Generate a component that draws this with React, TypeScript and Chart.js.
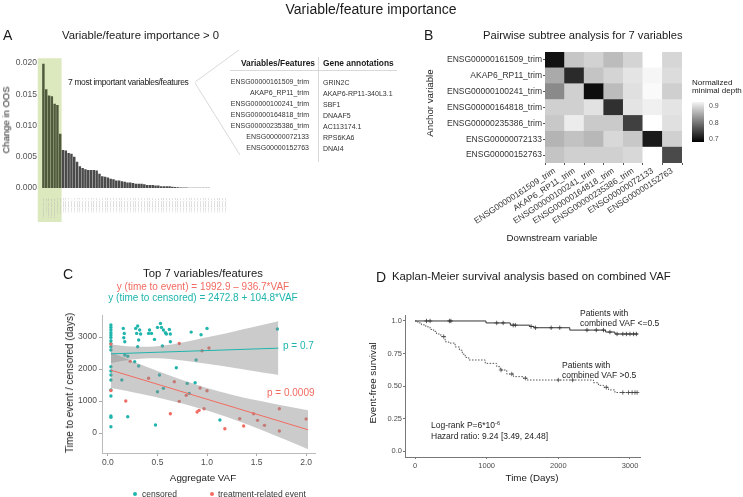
import React, { useEffect, useRef } from "react";
import { Chart, registerables } from "chart.js";

Chart.register(...registerables);

const W = 743;
const H = 497;
const FONT = "'Liberation Sans', Arial, Helvetica, sans-serif";
const TEAL = "#1fb5ad";
const RED = "#f26b61";
const TICK = "#4d4d4d";

// ---------------- Panel A ----------------
const topVariables = [
  "ENSG00000161509_trim",
  "AKAP6_RP11_trim",
  "ENSG00000100241_trim",
  "ENSG00000164818_trim",
  "ENSG00000235386_trim",
  "ENSG00000072133",
  "ENSG00000152763",
];
const geneAnnotations = ["GRIN2C", "AKAP6-RP11-340L3.1", "SBF1", "DNAAF5", "AC113174.1", "RPS6KA6", "DNAI4"];
const otherVariables = [
  "other_variable_08", "other_variable_09", "other_variable_10", "other_variable_11", "other_variable_12",
  "other_variable_13", "other_variable_14", "other_variable_15", "other_variable_16", "other_variable_17",
  "other_variable_18", "other_variable_19", "other_variable_20", "other_variable_21", "other_variable_22",
  "other_variable_23", "other_variable_24", "other_variable_25", "other_variable_26", "other_variable_27",
  "other_variable_28", "other_variable_29", "other_variable_30", "other_variable_31", "other_variable_32",
  "other_variable_33", "other_variable_34", "other_variable_35", "other_variable_36", "other_variable_37",
  "other_variable_38", "other_variable_39", "other_variable_40", "other_variable_41", "other_variable_42",
  "other_variable_43", "other_variable_44", "other_variable_45", "other_variable_46", "other_variable_47",
  "other_variable_48", "other_variable_49", "other_variable_50", "other_variable_51", "other_variable_52",
  "other_variable_53", "other_variable_54", "other_variable_55", "other_variable_56", "other_variable_57",
  "other_variable_58", "other_variable_59", "other_variable_60", "other_variable_61", "other_variable_62",
  "other_variable_63", "other_variable_64", "other_variable_65", "other_variable_66",
];
const importanceLabels = [...topVariables, ...otherVariables];
const importanceValues = [
  0.0199, 0.0158, 0.0148, 0.0147, 0.0135, 0.0133, 0.0087, 0.0061, 0.006, 0.0056,
  0.0055, 0.005, 0.0042, 0.0035, 0.0032, 0.003, 0.0029, 0.0029, 0.0029, 0.0028,
  0.0023, 0.0019, 0.0018, 0.0017, 0.0015, 0.0014, 0.0012, 0.0012, 0.0011, 0.001,
  0.0009, 0.0009, 0.0008, 0.0007, 0.0007, 0.0007, 0.0006, 0.0005, 0.0005, 0.0005,
  0.0004, 0.0004, 0.0003, 0.0003, 0.0003, 0.0003, 0.0002, 0.00015, 0.00012, 0.0001,
  0.0001, 0.00008, 0.00006, 0.00005, 0.00005, 0.00004, 0.00004, 0.00003, 0.00003, 0.00003,
  0.00002, 0.00002, 0.00002, 0.00001, 0.00001, 0.00001,
];
const importanceTicks = [0, 0.005, 0.01, 0.015, 0.02];

// ---------------- Panel B ----------------
const pairVars = topVariables;
const pairDepth = [
  [0.693, 0.872, 0.884, 0.862, 0.886, 0.93, 0.888],
  [0.845, 0.718, 0.87, 0.886, 0.902, 0.92, 0.894],
  [0.813, 0.882, 0.689, 0.862, 0.898, 0.924, 0.881],
  [0.882, 0.882, 0.9, 0.724, 0.902, 0.914, 0.902],
  [0.874, 0.91, 0.876, 0.876, 0.739, 0.93, 0.898],
  [0.855, 0.868, 0.858, 0.89, 0.874, 0.702, 0.882],
  [0.87, 0.882, 0.882, 0.882, 0.89, 0.93, 0.749],
];
const depthLegendTicks = ["0.9", "0.8", "0.7"];

// ---------------- Panel C ----------------
const censoredVAF = [
  0.03, 0.03, 0.03, 0.03, 0.03, 0.03, 0.03, 0.03, 0.03, 0.03, 0.03, 0.03, 0.03, 0.03, 0.03, 0.03, 0.03, 0.03, 0.03,
  0.155, 0.165, 0.16, 0.17, 0.17, 0.2, 0.14, 0.2, 0.28, 0.3, 0.32, 0.29, 0.33, 0.31, 0.3, 0.27, 0.31,
  0.42, 0.44, 0.41, 0.47, 0.5, 0.53, 0.54, 0.56, 0.58, 0.59, 0.62, 0.63, 0.63, 0.55, 0.52, 0.5, 0.56, 0.48,
  0.69, 0.84, 0.94, 1.0, 0.89, 0.8, 0.88, 0.82, 1.13, 1.71,
];
const censoredDays = [
  3375, 3303, 3219, 3135, 3063, 2990, 2885, 2802, 2698, 2594, 2073, 1937, 1813, 1656, 1344, 1156, 531, 490, 198,
  3271, 3115, 2979, 2854, 2440, 2400, 1656, 510, 3271, 3344, 3219, 3115, 3094, 2906, 2698, 2230, 2094,
  3219, 3115, 3115, 2927, 3302, 3427, 3302, 3219, 3135, 3094, 3240, 3094, 2854, 2719, 1813, 1292, 1396, 250,
  2042, 3156, 3073, 3271, 2281, 1552, 1573, 1240, 406, 3250,
];
const eventVAF = [
  0.03, 0.03, 0.18, 0.225, 0.41, 0.72, 0.67, 0.72, 0.63, 0.79, 0.95, 1.02, 0.93,
  1.0, 0.9, 0.92, 0.97, 1.18, 1.33, 1.37, 1.47, 1.51, 1.58, 1.73, 1.73, 2.0,
];
const eventDays = [
  2780, 1330, 1000, 2240, 1710, 2800, 1604, 990, 604, 1177, 2573, 2656, 1406,
  1323, 656, 708, 760, 135, 448, 219, 604, 396, 240, 760, 65, 438,
];
const eventFitVAF = [0.03, 2.02];
const eventFitDays = [1965, 101];
const censFitVAF = [0.03, 1.72];
const censFitDays = [2476, 2653];
const eventBandVAF = [0.03, 0.25, 0.5, 0.75, 1.0, 1.25, 1.5, 1.75, 2.02];
const eventBandUpper = [2525, 2242, 1936, 1654, 1407, 1198, 1021, 865, 711];
const eventBandLower = [1405, 1276, 1114, 926, 705, 446, 155, -157, -509];
const censBandVAF = [0.03, 0.25, 0.5, 0.75, 1.0, 1.25, 1.5, 1.72];
const censBandUpper = [2768, 2702, 2715, 2833, 2992, 3162, 3337, 3493];
const censBandLower = [2184, 2296, 2335, 2269, 2164, 2046, 1923, 1813];
const cTicksX = [0, 0.5, 1, 1.5, 2];
const cTicksY = [0, 1000, 2000, 3000];

// ---------------- Panel D ----------------
const kmLowTime = [0, 990, 1330, 1600, 1660, 2160, 2660, 2790, 3110];
const kmLowSurv = [1, 0.985, 0.968, 0.958, 0.948, 0.93, 0.915, 0.9, 0.9];
const kmHighTime = [0, 40, 90, 150, 210, 260, 300, 360, 420, 470, 560, 620, 660, 700, 750, 980, 1140, 1190, 1280, 1375, 1510, 1560, 2490, 2560, 2630, 2700, 2790, 3110];
const kmHighSurv = [1, 0.985, 0.97, 0.955, 0.935, 0.92, 0.9, 0.88, 0.84, 0.83, 0.8, 0.775, 0.745, 0.72, 0.7, 0.674, 0.649, 0.623, 0.592, 0.572, 0.56, 0.546, 0.525, 0.505, 0.49, 0.47, 0.45, 0.45];
const censorLowTime = [160, 210, 480, 500, 1140, 1230, 1370, 1400, 1620, 1680, 1900, 2020, 2400, 2530, 2630, 2720, 2820, 2900, 2950, 3000, 3050, 3090];
const censorLowSurv = [1, 1, 1, 1, 0.985, 0.985, 0.968, 0.968, 0.958, 0.948, 0.948, 0.948, 0.93, 0.93, 0.93, 0.915, 0.9, 0.9, 0.9, 0.9, 0.9, 0.9];
const censorHighTime = [400, 1200, 1350, 1540, 2000, 2200, 2670, 2900, 2980, 3030, 3070, 3100];
const censorHighSurv = [0.88, 0.623, 0.592, 0.56, 0.546, 0.546, 0.49, 0.45, 0.45, 0.45, 0.45, 0.45];
const dTicksX = [0, 1000, 2000, 3000];
const dTicksY = [0, 0.25, 0.5, 0.75, 1];
const dTickLabelsY = ["0.0", "0.25", "0.50", "0.75", "1.0"];

// ---------------- helpers ----------------
const fixW = (w: number) => (s: any) => { s.width = w; };
const fixH = (h: number) => (s: any) => { s.height = h; };
const setTicks = (vals: number[]) => (s: any) => { s.ticks = vals.map((v) => ({ value: v })); };
const pts = (xs: number[], ys: number[]) => xs.map((x, i) => ({ x, y: ys[i] }));
const depthColor = (v: number) => {
  const g = Math.round(Math.max(0, Math.min(255, ((v - 0.676) / 0.242) * 244)));
  return `rgb(${g},${g},${g})`;
};

const baseOptions: any = {
  responsive: false,
  animation: false,
  events: [],
  plugins: { legend: { display: false }, tooltip: { enabled: false } },
};

const Txt = ({ x, y, s, c = "#1a1a1a", a = "l", w = 400, r = false, ls = 0, children }: any) => {
  const tx = a === "l" ? "0" : a === "c" ? "-50%" : "-100%";
  return (
    <div
      style={{
        position: "absolute",
        left: x,
        top: y,
        fontSize: s,
        color: c,
        fontWeight: w,
        letterSpacing: ls,
        fontFamily: FONT,
        whiteSpace: "nowrap",
        lineHeight: 1,
        transform: r ? "translate(-50%,-50%) rotate(-90deg)" : `translate(${tx},-50%)`,
      }}
    >
      {children}
    </div>
  );
};

export default function App() {
  const refA = useRef<HTMLCanvasElement>(null);
  const refB = useRef<HTMLCanvasElement>(null);
  const refC = useRef<HTMLCanvasElement>(null);
  const refD = useRef<HTMLCanvasElement>(null);

  useEffect(() => {
    document.body.style.margin = "0";
    const charts: Chart[] = [];

    // ---- A ----
    const greenBand = {
      id: "greenBand",
      beforeDraw(chart: any) {
        const { ctx, chartArea, scales } = chart;
        const x = scales.x;
        const w = x.getPixelForValue(1) - x.getPixelForValue(0);
        const l = x.getPixelForValue(0) - w / 2 - 4.3;
        const r = x.getPixelForValue(6) + w / 2;
        ctx.save();
        ctx.fillStyle = "#dce9bf";
        ctx.fillRect(l, chartArea.top - 1, r - l, chartArea.bottom + 34 - (chartArea.top - 1));
        ctx.restore();
      },
      afterDraw(chart: any) {
        const ctx = chart.ctx;
        ctx.save();
        ctx.strokeStyle = "#cfcfcf";
        ctx.lineWidth = 0.8;
        ctx.beginPath();
        ctx.moveTo(195, 82);
        ctx.lineTo(239, 50);
        ctx.moveTo(195, 83);
        ctx.lineTo(240, 155);
        ctx.moveTo(230, 70.5);
        ctx.lineTo(397, 70.5);
        ctx.moveTo(318.5, 57);
        ctx.lineTo(318.5, 162);
        ctx.stroke();
        ctx.restore();
      },
    };
    charts.push(
      new Chart(refA.current!, {
        type: "bar",
        data: {
          labels: importanceLabels,
          datasets: [
            {
              data: importanceValues,
              backgroundColor: importanceValues.map((_, i) => (i < 7 ? "#4f5a3d" : "#4a4a4a")),
              borderWidth: 0,
              barPercentage: 1,
              categoryPercentage: 0.88,
            },
          ],
        },
        options: {
          ...baseOptions,
          layout: { padding: { left: 0, top: 59.25, right: W - 227, bottom: H - 188 - 40 } },
          scales: {
            x: {
              grid: { display: false },
              border: { display: false },
              ticks: { autoSkip: false, minRotation: 90, maxRotation: 90, font: { size: 1.8, family: FONT }, color: "#b0b0b0", padding: 2 },
              afterFit: fixH(40),
            },
            y: {
              min: 0,
              max: 0.0206,
              afterBuildTicks: setTicks(importanceTicks),
              ticks: { callback: (v: any) => Number(v).toFixed(3), font: { size: 8.5, family: FONT }, color: "#555", padding: 5 },
              grid: { display: false, drawTicks: false },
              border: { display: false },
              afterFit: fixW(42),
            },
          },
        } as any,
        plugins: [greenBand],
      })
    );

    // ---- B ----
    charts.push(
      new Chart(refB.current!, {
        type: "bar",
        data: {
          labels: pairVars,
          datasets: pairVars.map((_, k) => {
            const row = pairVars.length - 1 - k;
            return {
              label: pairVars[row],
              data: pairVars.map(() => 1),
              backgroundColor: pairDepth[row].map(depthColor),
              borderWidth: 0,
              barPercentage: 1,
              categoryPercentage: 1,
            };
          }),
        },
        options: {
          ...baseOptions,
          layout: { padding: { left: 0, top: 52, right: W - 682, bottom: H - 163 - 80 } },
          scales: {
            x: {
              stacked: true,
              grid: { display: true, drawOnChartArea: false, tickLength: 2, color: "#555" },
              border: { display: false },
              ticks: { autoSkip: false, minRotation: 33, maxRotation: 33, font: { size: 8.5, family: FONT }, color: "#333", padding: 1 },
              afterFit: fixH(80),
            },
            y: {
              stacked: true,
              min: 0,
              max: 7,
              afterBuildTicks: setTicks([0.5, 1.5, 2.5, 3.5, 4.5, 5.5, 6.5]),
              ticks: {
                callback: (v: any) => pairVars[pairVars.length - 1 - Math.floor(Number(v))],
                font: { size: 8.5, family: FONT },
                color: "#333",
                padding: 1,
              },
              grid: { display: true, drawOnChartArea: false, tickLength: 2, color: "#555" },
              border: { display: false },
              afterFit: fixW(545),
            },
          },
        } as any,
      })
    );

    // ---- C ----
    const BAND = "rgba(140,140,140,0.45)";
    const lineDs = (data: any, color: string) => ({
      type: "line",
      data,
      borderColor: color,
      borderWidth: 1,
      pointRadius: 0,
      fill: false,
    });
    const bandDs = (data: any, fill: any) => ({
      type: "line",
      data,
      borderColor: "transparent",
      borderWidth: 0,
      pointRadius: 0,
      tension: 0.35,
      fill,
      backgroundColor: BAND,
    });
    charts.push(
      new Chart(refC.current!, {
        type: "scatter",
        data: {
          datasets: [
            lineDs(pts(eventFitVAF, eventFitDays), RED),
            lineDs(pts(censFitVAF, censFitDays), TEAL),
            bandDs(pts(censBandVAF, censBandUpper), "+1"),
            bandDs(pts(censBandVAF, censBandLower), false),
            bandDs(pts(eventBandVAF, eventBandUpper), "+1"),
            bandDs(pts(eventBandVAF, eventBandLower), false),
            { data: pts(eventVAF, eventDays), backgroundColor: RED, borderWidth: 0, pointRadius: 1.7 },
            { data: pts(censoredVAF, censoredDays), backgroundColor: TEAL, borderWidth: 0, pointRadius: 1.7 },
          ] as any,
        },
        options: {
          ...baseOptions,
          layout: { padding: { left: 0, top: 315, right: W - 315, bottom: H - 453 - 30 } },
          scales: {
            x: {
              type: "linear",
              min: -0.06,
              max: 2.09,
              afterBuildTicks: setTicks(cTicksX),
              ticks: { callback: (v: any) => Number(v).toFixed(1), font: { size: 8.5, family: FONT }, color: TICK, padding: 2 },
              grid: { display: true, drawOnChartArea: false, tickLength: 3, color: "#aaa" },
              border: { display: true, color: "#bbb" },
              afterFit: fixH(30),
            },
            y: {
              type: "linear",
              min: -625,
              max: 3690,
              afterBuildTicks: setTicks(cTicksY),
              ticks: { callback: (v: any) => String(v), font: { size: 8.5, family: FONT }, color: TICK, padding: 2 },
              grid: { display: true, drawOnChartArea: false, tickLength: 3, color: "#aaa" },
              border: { display: true, color: "#bbb" },
              afterFit: fixW(102),
            },
          },
        } as any,
      })
    );

    // ---- D ----
    charts.push(
      new Chart(refD.current!, {
        type: "scatter",
        data: {
          datasets: [
            {
              data: pts(censorLowTime, censorLowSurv),
              pointStyle: "cross",
              pointRadius: 2.2,
              borderColor: "#333",
              borderWidth: 0.8,
            },
            {
              data: pts(censorHighTime, censorHighSurv),
              pointStyle: "cross",
              pointRadius: 2.2,
              borderColor: "#444",
              borderWidth: 0.8,
            },
            {
              type: "line",
              data: pts(kmLowTime, kmLowSurv),
              stepped: "before",
              borderColor: "#333",
              borderWidth: 1,
              pointRadius: 0,
              fill: false,
            },
            {
              type: "line",
              data: pts(kmHighTime, kmHighSurv),
              stepped: "before",
              borderColor: "#555",
              borderWidth: 1,
              borderDash: [1.5, 1.5],
              pointRadius: 0,
              fill: false,
            },
          ] as any,
        },
        options: {
          ...baseOptions,
          layout: { padding: { left: 0, top: 315, right: W - 640, bottom: H - 457 - 30 } },
          scales: {
            x: {
              type: "linear",
              min: -140,
              max: 3140,
              afterBuildTicks: setTicks(dTicksX),
              ticks: { callback: (v: any) => String(v), font: { size: 7.5, family: FONT }, color: TICK, padding: 2 },
              grid: { display: true, drawOnChartArea: false, tickLength: 2, color: "#777" },
              border: { display: true, color: "#777" },
              afterFit: fixH(30),
            },
            y: {
              type: "linear",
              min: -0.046,
              max: 1.046,
              afterBuildTicks: setTicks(dTicksY),
              ticks: {
                callback: (v: any) => dTickLabelsY[dTicksY.indexOf(Number(v))] ?? "",
                font: { size: 7.5, family: FONT },
                color: TICK,
                padding: 1,
              },
              grid: { display: true, drawOnChartArea: false, tickLength: 2, color: "#777" },
              border: { display: true, color: "#777" },
              afterFit: fixW(405),
            },
          },
        } as any,
      })
    );

    return () => charts.forEach((c) => c.destroy());
  }, []);

  const cv: any = { position: "absolute", left: 0, top: 0, pointerEvents: "none" };
  const rowY = [81, 92, 103, 114, 125, 136, 147];

  return (
    <div style={{ position: "relative", width: W, height: H, overflow: "hidden", background: "#fff", fontFamily: FONT }}>
      <canvas ref={refA} width={W} height={H} style={cv} />
      <canvas ref={refB} width={W} height={H} style={cv} />
      <canvas ref={refC} width={W} height={H} style={cv} />
      <canvas ref={refD} width={W} height={H} style={cv} />

      <Txt x={371} y={9} s={14} a="c">Variable/feature importance</Txt>

      {/* Panel A */}
      <Txt x={3} y={35} s={14}>A</Txt>
      <Txt x={62} y={36} s={11.3}>Variable/feature importance &gt; 0</Txt>
      <Txt x={6} y={120} s={9.5} r>Change in OOS</Txt>
      <Txt x={68} y={82} s={8.5} ls={-0.35}>7 most important variables/features</Txt>
      <Txt x={315} y={63} s={8.4} w={700} a="r">Variables/Features</Txt>
      <Txt x={323} y={63} s={8.4} w={700}>Gene annotations</Txt>
      {topVariables.map((v, i) => (
        <Txt key={v} x={309} y={rowY[i]} s={7} c="#333" a="r">{v}</Txt>
      ))}
      {geneAnnotations.map((g, i) => (
        <Txt key={g} x={323} y={rowY[i] + 1} s={7} c="#333">{g}</Txt>
      ))}

      {/* Panel B */}
      <Txt x={424} y={35} s={14}>B</Txt>
      <Txt x={483} y={36} s={11.2}>Pairwise subtree analysis for 7 variables</Txt>
      <Txt x={430} y={103} s={9.7} r>Anchor variable</Txt>
      <Txt x={552} y={238} s={9.7} a="c">Downstream variable</Txt>
      <Txt x={692} y={83} s={8}>Normalized</Txt>
      <Txt x={692} y={91} s={8}>minimal depth</Txt>
      <div style={{ position: "absolute", left: 692, top: 102, width: 12, height: 40, background: "linear-gradient(#f4f4f4, #000)" }} />
      {depthLegendTicks.map((t, i) => (
        <Txt key={t} x={709} y={105 + i * 16.5} s={7} c={TICK}>{t}</Txt>
      ))}

      {/* Panel C */}
      <Txt x={63} y={274} s={14}>C</Txt>
      <Txt x={203} y={274} s={11.3} a="c">Top 7 variables/features</Txt>
      <Txt x={203} y={287} s={10} a="c" c={RED}>y (time to event) = 1992.9 – 936.7*VAF</Txt>
      <Txt x={203} y={298} s={10} a="c" c={TEAL}>y (time to censored) = 2472.8 + 104.8*VAF</Txt>
      <Txt x={283} y={346} s={10} c={TEAL}>p = 0.7</Txt>
      <Txt x={267} y={393} s={10} c={RED}>p = 0.0009</Txt>
      <Txt x={70} y={383} s={10} r>Time to event / censored (days)</Txt>
      <Txt x={203} y={478} s={9.8} a="c">Aggregate VAF</Txt>
      <div style={{ position: "absolute", left: 133, top: 492, width: 4, height: 4, borderRadius: 2, background: TEAL }} />
      <Txt x={142} y={494} s={8.5} c="#333">censored</Txt>
      <div style={{ position: "absolute", left: 210, top: 492, width: 4, height: 4, borderRadius: 2, background: RED }} />
      <Txt x={218} y={494} s={8.5} c="#333">treatment-related event</Txt>

      {/* Panel D */}
      <Txt x={376} y={277} s={14}>D</Txt>
      <Txt x={392} y={277} s={11.3}>Kaplan-Meier survival analysis based on combined VAF</Txt>
      <Txt x={373} y={383} s={9.8} r>Event-free survival</Txt>
      <Txt x={532} y={478} s={9.8} a="c">Time (Days)</Txt>
      <Txt x={580} y={313} s={8.5} c="#222">Patients with</Txt>
      <Txt x={580} y={323} s={8.5} c="#222">combined VAF &lt;=0.5</Txt>
      <Txt x={562} y={365} s={8.5} c="#222">Patients with</Txt>
      <Txt x={562} y={375} s={8.5} c="#222">combined VAF &gt;0.5</Txt>
      <Txt x={431} y={425} s={8.5} c="#222">
        Log-rank P=6*10<sup style={{ fontSize: 5.5, verticalAlign: "top", lineHeight: 1 }}>-6</sup>
      </Txt>
      <Txt x={431} y={436} s={8.5} c="#222">Hazard ratio: 9.24 [3.49, 24.48]</Txt>
    </div>
  );
}
